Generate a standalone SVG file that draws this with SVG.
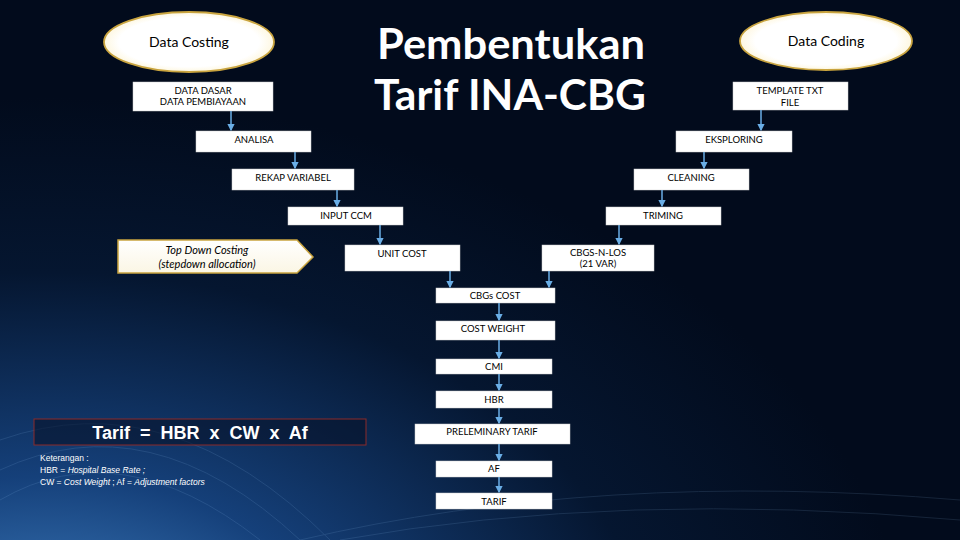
<svg xmlns="http://www.w3.org/2000/svg" width="960" height="540" viewBox="0 0 960 540">
<defs>
<radialGradient id="bg" cx="0.05" cy="1.05" r="0.9" gradientTransform="scale(1,1.2)">
<stop offset="0" stop-color="#4a8fd4"/>
<stop offset="0.35" stop-color="#15407a"/>
<stop offset="0.7" stop-color="#051630"/>
<stop offset="1" stop-color="#020b1c"/>
</radialGradient>
<radialGradient id="ell" cx="0.5" cy="0.5" r="0.55">
<stop offset="0.75" stop-color="#ffffff"/>
<stop offset="1" stop-color="#fdf3d0"/>
</radialGradient>
<linearGradient id="pent" x1="0" y1="0" x2="0" y2="1">
<stop offset="0" stop-color="#ffffff"/>
<stop offset="1" stop-color="#fbf6e4"/>
</linearGradient>
<marker id="arr" viewBox="0 0 6 6" refX="5" refY="3" markerWidth="5" markerHeight="5" orient="auto">
<path d="M0,0 L6,3 L0,6 z" fill="#6aaee6"/>
</marker>
</defs>
<style>
.box{fill:#ffffff;stroke:#d0d0d0;stroke-width:0.5}
.lbl{font-family:"Lato","Liberation Sans",sans-serif;font-size:9.5px;fill:#000000;text-anchor:middle}
.ell{fill:url(#ell);stroke:#c9a43f;stroke-width:1.8}
.elbl{font-family:"Lato","Liberation Sans",sans-serif;font-size:14px;fill:#000000;text-anchor:middle}
.con line{stroke:#6aaee6;stroke-width:1.5;marker-end:url(#arr)}
.note{font-family:"Liberation Sans",sans-serif;font-size:8.5px;fill:#ffffff}
</style>
<rect width="960" height="540" fill="url(#bg)"/>
<g opacity="0.12" stroke="#9fd0ff" stroke-width="1">
<path d="M0,470 Q150,400 300,540" fill="none"/>
<path d="M0,440 Q170,380 330,540" fill="none"/>
<path d="M0,500 Q120,430 260,540" fill="none"/>
<path d="M300,540 Q600,470 960,500" fill="none"/>
<path d="M340,540 Q620,490 960,520" fill="none"/>
</g>

<g id="title">
<text x="511" y="59" font-family="Lato,'Open Sans',sans-serif" font-size="42" font-weight="bold" fill="#ffffff" text-anchor="middle" textLength="268" lengthAdjust="spacingAndGlyphs">Pembentukan</text>
<text x="510" y="110" font-family="Lato,'Open Sans',sans-serif" font-size="42" font-weight="bold" fill="#ffffff" text-anchor="middle" textLength="272" lengthAdjust="spacingAndGlyphs">Tarif INA-CBG</text>
</g>

<g id="data-costing"><ellipse class="ell" cx="189" cy="42" rx="85" ry="30"/><text class="elbl" x="189" y="47">Data Costing</text></g>
<g id="data-coding"><ellipse class="ell" cx="826" cy="41" rx="86" ry="29"/><text class="elbl" x="826" y="46">Data Coding</text></g>

<g id="data-dasar"><rect class="box" x="133" y="82" width="140" height="29"/><text class="lbl" x="203" y="94">DATA DASAR</text><text class="lbl" x="203" y="105">DATA PEMBIAYAAN</text></g>
<g id="template"><rect class="box" x="733" y="82" width="115" height="28"/><text class="lbl" x="790" y="94">TEMPLATE TXT</text><text class="lbl" x="790" y="106">FILE</text></g>
<g id="analisa"><rect class="box" x="196" y="131" width="115" height="21"/><text class="lbl" x="254" y="143">ANALISA</text></g>
<g id="eksploring"><rect class="box" x="676" y="131" width="116" height="21"/><text class="lbl" x="734" y="143">EKSPLORING</text></g>
<g id="rekap"><rect class="box" x="232" y="169" width="122" height="21"/><text class="lbl" x="293" y="181">REKAP VARIABEL</text></g>
<g id="cleaning"><rect class="box" x="634" y="169" width="115" height="21"/><text class="lbl" x="691" y="181">CLEANING</text></g>
<g id="input-ccm"><rect class="box" x="288" y="207" width="115" height="18"/><text class="lbl" x="346" y="219">INPUT CCM</text></g>
<g id="triming"><rect class="box" x="606" y="207" width="115" height="18"/><text class="lbl" x="663" y="219">TRIMING</text></g>

<g id="top-down">
<path d="M118,240 L297,240 L313,257 L297,273 L118,273 Z" fill="url(#pent)" stroke="#c9a43f" stroke-width="1.5"/>
<text x="207" y="254" font-family="Lato,'Liberation Sans',sans-serif" font-size="11" font-style="italic" fill="#000" text-anchor="middle">Top Down Costing</text>
<text x="207" y="268" font-family="Lato,'Liberation Sans',sans-serif" font-size="11" font-style="italic" fill="#000" text-anchor="middle">(stepdown allocation)</text>
</g>

<g id="unit-cost"><rect class="box" x="345" y="245" width="115" height="26"/><text class="lbl" x="402" y="257">UNIT COST</text></g>
<g id="cbgs-n-los"><rect class="box" x="542" y="245" width="112" height="26"/><text class="lbl" x="598" y="256" font-size="8.5">CBGS-N-LOS</text><text class="lbl" x="598" y="267" font-size="8.5">(21 VAR)</text></g>
<g id="cbgs-cost"><rect class="box" x="436" y="288" width="119" height="15"/><text class="lbl" x="495" y="299">CBGs COST</text></g>
<g id="cost-weight"><rect class="box" x="436" y="321" width="119" height="19"/><text class="lbl" x="493" y="332">COST WEIGHT</text></g>
<g id="cmi"><rect class="box" x="436" y="359" width="116" height="15"/><text class="lbl" x="494" y="370">CMI</text></g>
<g id="hbr"><rect class="box" x="436" y="391" width="116" height="17"/><text class="lbl" x="494" y="403">HBR</text></g>
<g id="preleminary"><rect class="box" x="415" y="424" width="155" height="20"/><text class="lbl" x="492" y="435">PRELEMINARY TARIF</text></g>
<g id="af"><rect class="box" x="436" y="461" width="116" height="16"/><text class="lbl" x="494" y="472">AF</text></g>
<g id="tarif"><rect class="box" x="436" y="493" width="116" height="16"/><text class="lbl" x="494" y="505">TARIF</text></g>

<g id="formula">
<rect x="34" y="419" width="332" height="26" fill="#07122a" fill-opacity="0.6" stroke="#8a2a2a" stroke-width="1"/>
<text x="200" y="439" font-family="'Liberation Sans',Arial,sans-serif" font-size="18" font-weight="bold" fill="#ffffff" text-anchor="middle" word-spacing="5">Tarif = HBR x CW x Af</text>
</g>
<g id="keterangan">
<text class="note" x="40" y="461">Keterangan :</text>
<text class="note" x="40" y="473">HBR = <tspan font-style="italic">Hospital Base Rate ;</tspan></text>
<text class="note" x="40" y="485">CW = <tspan font-style="italic">Cost Weight</tspan> ; Af = <tspan font-style="italic">Adjustment factors</tspan></text>
</g>

<g id="connectors" class="con">
<line x1="231" y1="111" x2="231" y2="130"/>
<line x1="295" y1="152" x2="295" y2="168"/>
<line x1="337" y1="190" x2="337" y2="206"/>
<line x1="380" y1="225" x2="380" y2="244"/>
<line x1="761" y1="110" x2="761" y2="130"/>
<line x1="704" y1="152" x2="704" y2="168"/>
<line x1="662" y1="190" x2="662" y2="206"/>
<line x1="619" y1="225" x2="619" y2="244"/>
<line x1="450" y1="271" x2="450" y2="287"/>
<line x1="549" y1="271" x2="549" y2="287"/>
<line x1="499" y1="303" x2="499" y2="320"/>
<line x1="499" y1="340" x2="499" y2="358"/>
<line x1="499" y1="374" x2="499" y2="390"/>
<line x1="499" y1="408" x2="499" y2="423"/>
<line x1="499" y1="444" x2="499" y2="460"/>
<line x1="499" y1="477" x2="499" y2="492"/>
</g>
</svg>
